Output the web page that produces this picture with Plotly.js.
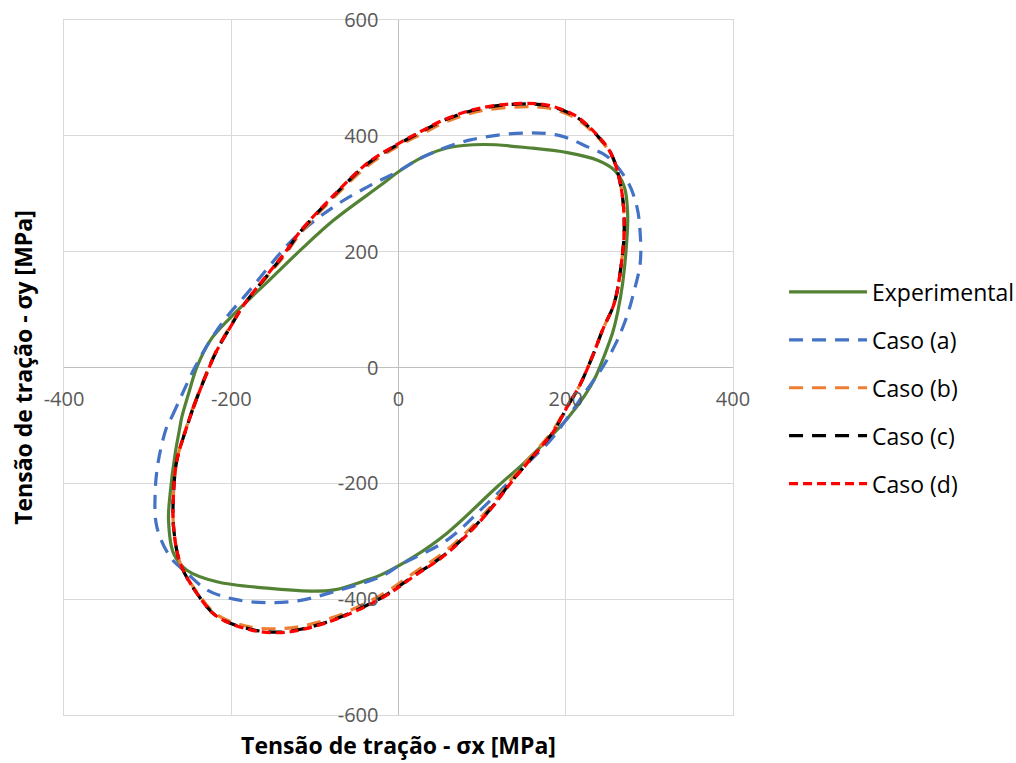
<!DOCTYPE html>
<html>
<head>
<meta charset="utf-8">
<script src="https://cdn.plot.ly/plotly-3.0.1.min.js"></script>
<style>html,body{margin:0;padding:0;background:#fff;}#chart{width:1016px;height:763px;}</style>
</head>
<body>
<div id="chart"></div>
<script>
// Experimental
const expX = [-262,-259,-251,-241,-225,-201,-177,-155,-117,-77,-21,0,30,58,102,158,202,238,258,270,274,273,268,262,256,246,236,222,202,178,150,118,58,18,-21,-38,-77,-105,-157,-217,-253,-269,-275,-273,-267,-262];
const expY = [-108,-85,-45,1,47,86,120,150,203,255,315,338,364,379,385,379,371,358,341,312,266,220,145,95,60,20,-15,-50,-88,-125,-165,-206,-286,-327,-358,-367,-384,-386,-381,-370,-350,-321,-263,-217,-148,-108];
// Caso (a)
const caseAX = [-277,-271,-259,-245,-225,-205,-181,-125,-77,-37,0,30,86,154,194,226,250,274,285,289,289,281,273,260,243,222,203,182,158,106,58,2,-21,-77,-117,-157,-197,-229,-253,-273,-289,-291,-287,-277];
const caseAY = [-102,-85,-47,-4,47,88,128,223,278,312,339,364,393,405,400,381,364,321,278,232,180,128,88,42,-2,-45,-85,-125,-160,-235,-298,-341,-361,-387,-402,-406,-400,-384,-355,-327,-275,-217,-160,-102];
// Caso (b)
const caseBX = [-253,-245,-231,-217,-201,-185,-157,-135,-117,-77,-37,-2,26,58,98,146,178,210,234,254,266,270,266,258,245,231,217,201,185,157,135,106,58,18,-21,-77,-117,-145,-177,-217,-241,-261,-269,-269,-265,-253];
const caseBY = [-100,-66,-14,32,72,108,157,196,232,294,348,381,402,425,443,450,448,432,404,368,312,243,174,111,68,16,-30,-68,-108,-156,-193,-247,-315,-355,-393,-431,-447,-451,-448,-427,-388,-338,-275,-217,-160,-100];
// Caso (c)
const caseCX = [-253,-245,-231,-217,-201,-185,-157,-135,-117,-77,-37,-2,26,58,98,146,178,210,234,254,266,270,266,258,245,231,217,201,185,157,135,106,58,18,-21,-77,-117,-145,-177,-217,-241,-261,-269,-269,-265,-253];
const caseCY = [-102,-68,-16,30,70,108,159,199,235,297,352,384,406,429,447,455,452,435,406,370,312,243,174,111,68,16,-30,-70,-111,-160,-197,-251,-320,-360,-398,-435,-452,-457,-452,-430,-390,-338,-275,-217,-160,-102];
// Caso (d)
const caseDX = [-253,-245,-231,-217,-201,-185,-157,-135,-117,-77,-37,-2,26,58,98,146,178,210,234,254,266,270,266,258,245,231,217,201,185,157,135,106,58,18,-21,-77,-117,-145,-177,-217,-241,-261,-269,-269,-265,-253];
const caseDY = [-102,-68,-16,30,70,108,160,200,236,298,353,385,407,430,448,456,453,436,407,370,312,243,174,111,68,16,-30,-70,-111,-160,-198,-252,-321,-361,-399,-436,-453,-458,-453,-430,-390,-338,-275,-217,-160,-102];

const seriesNames = ['Experimental','Caso (a)','Caso (b)','Caso (c)','Caso (d)'];
const xTicks = [-400,-200,0,200,400];
const yTicks = [-600,-400,-200,0,200,400,600];
const xTitle = 'Tensão de tração - σx [MPa]';
const yTitle = 'Tensão de tração - σy [MPa]';

const FONT = 'Open Sans, sans-serif';

function tr(x, y, name, color, dash, grp) {
  return {
    x: x, y: y, name: name, type: 'scatter', mode: 'lines',
    line: {color: color, width: 3.2, dash: dash, shape: 'spline', smoothing: 1},
    legendgroup: grp, hoverinfo: 'skip'
  };
}

const data = [
  tr(expX, expY, seriesNames[0], '#548235', 'solid', 'g0'),
  tr(caseAX, caseAY, seriesNames[1], '#4472C4', '14px,9px', 'g1'),
  tr(caseBX, caseBY, seriesNames[2], '#ED7D31', '14px,9px', 'g2'),
  tr(caseCX, caseCY, seriesNames[3], '#000000', '14px,9px', 'g3'),
  tr(caseDX, caseDY, seriesNames[4], '#FF0000', '9px,5px', 'g4'),
  {x: [], y: [], xaxis: 'x2', yaxis: 'y2', type: 'scatter', mode: 'lines', showlegend: false, hoverinfo: 'skip'}
];

const layout = {
  width: 1016, height: 763,
  margin: {l: 64, r: 283, t: 20, b: 48},
  paper_bgcolor: '#fff', plot_bgcolor: '#fff',
  font: {family: FONT, color: '#000'},
  showlegend: true,
  legend: {
    xref: 'container', yref: 'container',
    x: 0.7717, xanchor: 'left', y: 0.4915, yanchor: 'middle',
    font: {family: FONT, size: 23, color: '#000'},
    itemwidth: 78, tracegroupgap: 15, traceorder: 'grouped',
    bgcolor: 'rgba(0,0,0,0)'
  },
  xaxis: {
    range: [-400, 400], tickvals: xTicks, showticklabels: false, ticks: '',
    showgrid: true, gridcolor: '#d9d9d9', gridwidth: 1,
    zeroline: true, zerolinecolor: '#bfbfbf', zerolinewidth: 1,
    showline: true, mirror: true, linecolor: '#d9d9d9', linewidth: 1,
    title: {text: xTitle, font: {family: FONT, size: 23, color: '#000', weight: 'bold'}, standoff: 22},
    fixedrange: true
  },
  yaxis: {
    range: [-600, 600], tickvals: yTicks, showticklabels: false, ticks: '',
    showgrid: true, gridcolor: '#d9d9d9', gridwidth: 1,
    zeroline: true, zerolinecolor: '#bfbfbf', zerolinewidth: 1,
    showline: true, mirror: true, linecolor: '#d9d9d9', linewidth: 1,
    title: {text: yTitle, font: {family: FONT, size: 23, color: '#000', weight: 'bold'}, standoff: 23},
    fixedrange: true
  },
  xaxis2: {
    overlaying: 'x', anchor: 'free', position: 0.5, side: 'bottom',
    range: [-400, 400], tickvals: xTicks, ticktext: xTicks.map(String),
    showgrid: false, zeroline: false, showline: false,
    ticks: 'outside', ticklen: 13, tickcolor: 'rgba(0,0,0,0)',
    tickfont: {family: FONT, size: 20, color: '#595959'}, fixedrange: true
  },
  yaxis2: {
    overlaying: 'y', anchor: 'free', position: 0.5, side: 'left',
    range: [-600, 600], tickvals: yTicks, ticktext: yTicks.map(String),
    showgrid: false, zeroline: false, showline: false,
    ticks: 'outside', ticklen: 16, tickcolor: 'rgba(0,0,0,0)',
    tickfont: {family: FONT, size: 20, color: '#595959'}, fixedrange: true
  }
};

Plotly.newPlot('chart', data, layout, {displayModeBar: false, staticPlot: true});
</script>
</body>
</html>
